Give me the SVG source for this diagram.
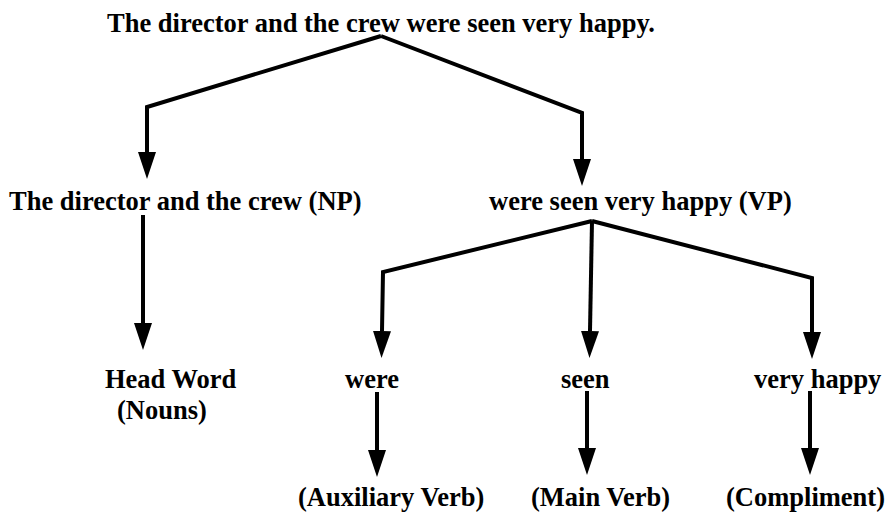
<svg xmlns="http://www.w3.org/2000/svg" width="890" height="518" viewBox="0 0 890 518">
  <style>
    .lbl { font-family: "Liberation Serif", "Times New Roman", serif; font-weight: bold; font-size: 26.5px; fill: #000; }
    .edge { fill: none; stroke: #000; stroke-width: 4; marker-end: url(#head); }
  </style>
  <defs>
    <marker id="head" viewBox="0 0 27 18" markerWidth="27" markerHeight="18" refX="0" refY="9" orient="auto" markerUnits="userSpaceOnUse">
      <path d="M0,0 L27,9 L0,18 Z" fill="#000"/>
    </marker>
  </defs>
  <rect width="890" height="518" fill="#fff"/>

  <!-- connectors -->
  <g id="connectors">
    <path class="edge" d="M381,36 L147,107 L147,152"/>
    <path class="edge" d="M381,36 L582,113 L582,159"/>
    <path class="edge" d="M143,215 L143,323"/>
    <path class="edge" d="M592,221 L383,272 L382,331"/>
    <path class="edge" d="M592,221 L590,331"/>
    <path class="edge" d="M592,221 L812,278 L812,332"/>
    <path class="edge" d="M377,392 L377,450"/>
    <path class="edge" d="M587,391 L587,448"/>
    <path class="edge" d="M810,391 L810,448"/>
  </g>

  <!-- nodes -->
  <g id="sentence"><text class="lbl" x="107" y="32">The director and the crew were seen very happy.</text></g>
  <g id="np"><text class="lbl" x="9" y="210">The director and the crew (NP)</text></g>
  <g id="vp"><text class="lbl" x="489" y="210">were seen very happy (VP)</text></g>
  <g id="head-word">
    <text class="lbl" x="105" y="388">Head Word</text>
    <text class="lbl" x="117" y="419">(Nouns)</text>
  </g>
  <g id="were"><text class="lbl" x="345" y="388">were</text></g>
  <g id="seen"><text class="lbl" x="561" y="388">seen</text></g>
  <g id="very-happy"><text class="lbl" x="754" y="388">very happy</text></g>
  <g id="auxiliary"><text class="lbl" x="298" y="506">(Auxiliary Verb)</text></g>
  <g id="main-verb"><text class="lbl" x="531" y="506">(Main Verb)</text></g>
  <g id="compliment"><text class="lbl" x="726" y="506">(Compliment)</text></g>
</svg>
